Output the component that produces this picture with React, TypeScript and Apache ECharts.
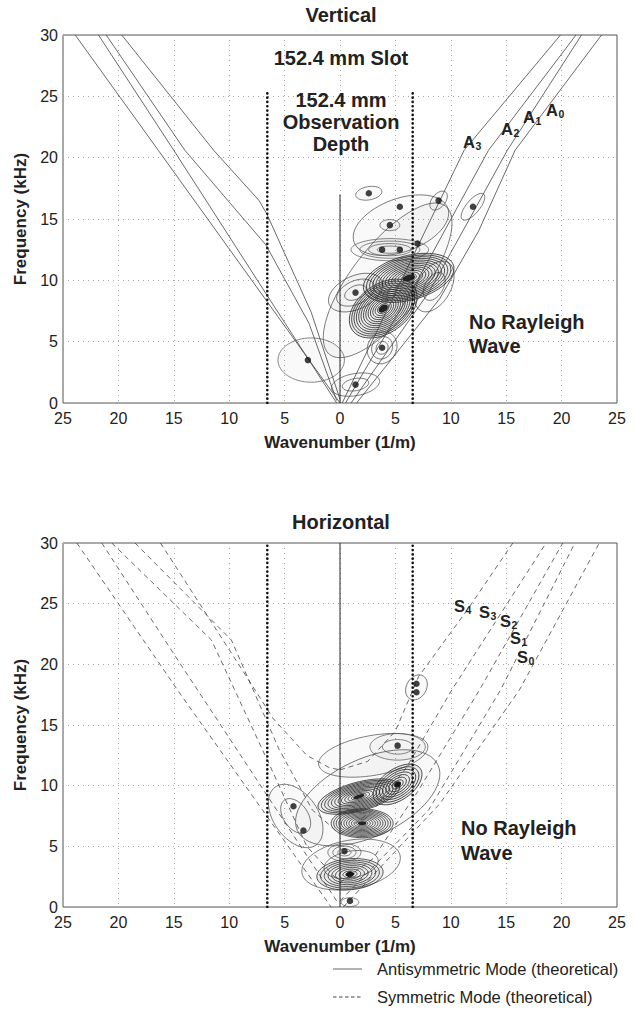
import React, { useEffect, useRef } from "react";
import * as echarts from "echarts";

// ---------- Vertical panel: antisymmetric modes (solid) ----------
const A0_LEFT = [[-23.9, 30], [-16.4, 20.6], [0, 0]];
const A1_LEFT = [[-21.8, 30], [-15, 20.6], [-6.6, 8.8], [-0.3, 0]];
const A2_LEFT = [[-21.1, 30], [-14, 20.6], [-6.7, 12.9], [-2.8, 6.5], [-0.3, 0.2]];
const A3_LEFT = [[-19.7, 30], [-11.4, 20.6], [-7.3, 16.5], [-6.6, 15.4], [-2.6, 7.4], [0, 0.3]];
const A0_RIGHT = [[1.5, 0], [9, 8.5], [12.5, 14], [15.8, 20.6], [23.6, 30]];
const A1_RIGHT = [[1, 0], [8, 9], [12.3, 16], [15.1, 20.6], [21.8, 30]];
const A2_RIGHT = [[0.5, 0], [7, 10], [13.4, 20.6], [21.3, 30]];
const A3_RIGHT = [[0.2, 0], [11.2, 20.6], [19.9, 30]];

// ---------- Horizontal panel: symmetric modes (dashed) ----------
const S0_LEFT = [[-23.75, 30], [-14.6, 17.8], [-0.8, 0]];
const S1_LEFT = [[-21.5, 30], [-14.6, 20.3], [-0.3, 0.5]];
const S2_LEFT = [[-20.6, 30], [-11.6, 22], [-6, 11], [-3, 5], [0, 2]];
const S3_LEFT = [[-18.5, 30], [-9.8, 22], [-5.5, 13], [-2.5, 8], [0, 6]];
const S4_LEFT = [[-16.2, 30], [-9.5, 20.5], [-6, 15.5], [-3, 12.5], [-1, 11.5], [0, 11.3]];
const S0_RIGHT = [[0.3, 0], [9, 8.5], [16.2, 17.9], [23.4, 30]];
const S1_RIGHT = [[0, 0.5], [8, 8], [14.5, 17.9], [21.2, 30]];
const S2_RIGHT = [[0, 2], [3, 4], [7, 9.5], [12.6, 17.9], [20.1, 30]];
const S3_RIGHT = [[0, 6], [3, 8], [6, 11.5], [10.1, 17.9], [18.6, 30]];
const S4_RIGHT = [[0, 11.3], [2.5, 12], [5, 14.5], [7.1, 19], [11.5, 24.5], [15.6, 30]];

// ---------- Slot / observation markers ----------
const SLOT_K = 6.56;
const SLOT_TOP_V = 25.5;
const OBS_TOP_V = 17;

// ---------- Peak markers (dots) ----------
const V_DOTS = [
  [2.6, 17.1], [5.4, 16.0], [8.9, 16.5], [12.0, 16.0], [4.5, 14.5],
  [3.8, 12.5], [5.4, 12.5], [7.0, 13.0], [1.4, 9.0], [3.8, 4.5],
  [1.4, 1.5], [-2.9, 3.5],
];
const H_DOTS = [
  [6.9, 18.4], [6.9, 17.7], [5.2, 13.3], [5.2, 10.1], [-4.2, 8.3],
  [-3.3, 6.3], [0.4, 4.6], [0.9, 2.7], [0.9, 0.5],
];

// ---------- Contour blobs: k, f, semi-axis a, semi-axis b (in 1/m), tilt (deg), levels ----------
const V_BLOBS = [
  [4.3, 10.0, 8.5, 3.2, 52, 1],
  [5.5, 14.5, 4.5, 2.4, 20, 1],
  [1.4, 9.0, 2.6, 1.5, 25, 3],
  [8.5, 9.5, 2.5, 1.5, 60, 2],
  [4.5, 12.5, 3.5, 1.0, 0, 4],
  [6.2, 10.2, 4.2, 2.0, 15, 13],
  [3.9, 7.7, 3.4, 2.2, 35, 13],
  [3.8, 4.5, 1.5, 1.3, 60, 3],
  [1.4, 1.5, 2.2, 1.0, 10, 2],
  [-2.6, 3.5, 3.0, 2.0, 0, 1],
  [2.6, 17.1, 1.2, 0.6, 10, 1],
  [8.9, 16.5, 1.0, 0.6, 50, 1],
  [12.0, 16.0, 1.5, 0.6, 50, 1],
  [4.5, 14.5, 0.9, 0.5, 0, 1],
];
const H_BLOBS = [
  [2.5, 9.0, 7.0, 3.5, 25, 1],
  [3.0, 12.5, 5.0, 1.8, 10, 1],
  [1.0, 3.5, 4.5, 2.2, 10, 2],
  [-4.0, 7.5, 3.2, 2.0, -55, 2],
  [5.2, 13.2, 2.5, 1.2, 0, 2],
  [6.9, 18.1, 1.2, 0.9, 60, 1],
  [5.2, 10.1, 2.5, 1.4, 35, 7],
  [1.7, 9.1, 3.8, 1.3, 15, 11],
  [2.0, 6.9, 2.8, 1.3, 0, 11],
  [0.9, 2.7, 3.0, 1.4, 5, 8],
  [0.4, 4.5, 1.5, 0.8, 0, 3],
  [0.9, 0.4, 0.8, 0.4, 0, 1],
];

const FONT = "'Liberation Sans', Arial, Helvetica, sans-serif";
const INK = "#222";

function modeLine(data: number[][], gi: number, dashed: boolean) {
  return {
    type: "line",
    xAxisIndex: gi,
    yAxisIndex: gi,
    data,
    showSymbol: false,
    silent: true,
    z: 4,
    lineStyle: {
      color: "#444",
      width: 0.8,
      type: dashed ? [5, 4] : "solid",
    },
  };
}

function markerLine(data: number[][], gi: number, dotted: boolean) {
  return {
    type: "line",
    xAxisIndex: gi,
    yAxisIndex: gi,
    data,
    showSymbol: false,
    silent: true,
    z: 5,
    lineStyle: dotted
      ? { color: "#111", width: 2.6, type: [0.1, 4.2], cap: "round" }
      : { color: "#222", width: 1, type: "solid" },
  };
}

function blobSeries(data: number[][], gi: number) {
  return {
    type: "custom",
    xAxisIndex: gi,
    yAxisIndex: gi,
    data,
    silent: true,
    clip: true,
    z: 2,
    renderItem: (params: any, api: any) => {
      const c = api.coord([api.value(0), api.value(1)]);
      const unit = api.size([1, 0])[0];
      const a = api.value(2) * unit;
      const b = api.value(3) * unit;
      const ang = (api.value(4) * Math.PI) / 180;
      const n = api.value(5);
      const dense = n > 6;
      const children: any[] = [];
      for (let i = n; i >= 1; i--) {
        const f = n === 1 ? 1 : 0.1 + (0.9 * i) / n;
        children.push({
          type: "ellipse",
          shape: { cx: 0, cy: 0, rx: a * f, ry: b * f },
          style: {
            fill: i === n ? (dense ? "rgba(0,0,0,0.06)" : "rgba(0,0,0,0.025)") : "none",
            stroke: dense ? "#2a2a2a" : "#555",
            lineWidth: dense ? 0.75 : 0.7,
          },
        });
      }
      if (dense) {
        children.push({
          type: "ellipse",
          shape: { cx: 0, cy: 0, rx: a * 0.14, ry: b * 0.14 },
          style: { fill: "#222", stroke: "none" },
        });
      }
      return { type: "group", x: c[0], y: c[1], rotation: ang, children };
    },
  };
}

function dotSeries(data: number[][], gi: number) {
  return {
    type: "scatter",
    xAxisIndex: gi,
    yAxisIndex: gi,
    data,
    symbol: "circle",
    symbolSize: 6.5,
    silent: true,
    z: 6,
    itemStyle: { color: "#111" },
  };
}

function xAxisFor(gi: number) {
  return {
    type: "value",
    gridIndex: gi,
    min: -25,
    max: 25,
    interval: 5,
    axisLine: { show: false },
    axisTick: { show: false },
    axisLabel: {
      formatter: (v: number) => String(Math.abs(v)),
      fontSize: 16,
      color: INK,
      fontFamily: FONT,
      margin: 7,
    },
    splitLine: { show: true, lineStyle: { type: [1, 4], color: "#a5a5a5", width: 1 } },
    name: "Wavenumber (1/m)",
    nameLocation: "middle",
    nameGap: 31,
    nameTextStyle: { fontSize: 17, fontWeight: "bold", color: INK, fontFamily: FONT },
  };
}

function yAxisFor(gi: number) {
  return {
    type: "value",
    gridIndex: gi,
    min: 0,
    max: 30,
    interval: 5,
    axisLine: { show: false },
    axisTick: { show: false },
    axisLabel: { fontSize: 16, color: INK, fontFamily: FONT, margin: 5 },
    splitLine: { show: true, lineStyle: { type: [1, 4], color: "#a5a5a5", width: 1 } },
    name: "Frequency (kHz)",
    nameLocation: "middle",
    nameGap: 33,
    nameRotate: 90,
    nameTextStyle: { fontSize: 17, fontWeight: "bold", color: INK, fontFamily: FONT },
  };
}

function txt(text: string, x: number, y: number, size: number, bold: boolean, align = "center") {
  return {
    type: "text",
    x,
    y,
    silent: true,
    z: 10,
    style: {
      text,
      fill: INK,
      font: `${bold ? "bold " : ""}${size}px ${FONT}`,
      textAlign: align,
      textVerticalAlign: "middle",
    },
  };
}

function modeLabel(letter: string, sub: string, x: number, y: number) {
  return [txt(letter, x, y, 16.5, true, "right"), txt(sub, x + 0.5, y + 4, 10.5, true, "left")];
}

export default function App() {
  const ref = useRef<HTMLDivElement>(null);
  useEffect(() => {
    document.body.style.margin = "0";
    const chart = echarts.init(ref.current!, null, { renderer: "svg" });
    const option: any = {
      animation: false,
      backgroundColor: "#fff",
      textStyle: { fontFamily: FONT },
      grid: [
        { left: 63, top: 35, width: 554, height: 368, show: true, borderColor: "#555", borderWidth: 1 },
        { left: 63, top: 543, width: 554, height: 364, show: true, borderColor: "#555", borderWidth: 1 },
      ],
      xAxis: [xAxisFor(0), xAxisFor(1)],
      yAxis: [yAxisFor(0), yAxisFor(1)],
      series: [
        blobSeries(V_BLOBS, 0),
        blobSeries(H_BLOBS, 1),
        modeLine(A0_LEFT, 0, false),
        modeLine(A1_LEFT, 0, false),
        modeLine(A2_LEFT, 0, false),
        modeLine(A3_LEFT, 0, false),
        modeLine(A0_RIGHT, 0, false),
        modeLine(A1_RIGHT, 0, false),
        modeLine(A2_RIGHT, 0, false),
        modeLine(A3_RIGHT, 0, false),
        modeLine(S0_LEFT, 1, true),
        modeLine(S1_LEFT, 1, true),
        modeLine(S2_LEFT, 1, true),
        modeLine(S3_LEFT, 1, true),
        modeLine(S4_LEFT, 1, true),
        modeLine(S0_RIGHT, 1, true),
        modeLine(S1_RIGHT, 1, true),
        modeLine(S2_RIGHT, 1, true),
        modeLine(S3_RIGHT, 1, true),
        modeLine(S4_RIGHT, 1, true),
        markerLine([[-SLOT_K, 0], [-SLOT_K, SLOT_TOP_V]], 0, true),
        markerLine([[SLOT_K, 0], [SLOT_K, SLOT_TOP_V]], 0, true),
        markerLine([[0, 0], [0, OBS_TOP_V]], 0, false),
        markerLine([[-SLOT_K, 0], [-SLOT_K, 30]], 1, true),
        markerLine([[SLOT_K, 0], [SLOT_K, 30]], 1, true),
        markerLine([[0, 0], [0, 30]], 1, false),
        dotSeries(V_DOTS, 0),
        dotSeries(H_DOTS, 1),
      ],
      graphic: [
        txt("Vertical", 341, 15, 20, true),
        txt("Horizontal", 341, 522, 20, true),
        txt("152.4 mm Slot", 341, 58, 20, true),
        txt("152.4 mm", 341, 100, 20, true),
        txt("Observation", 341, 122, 20, true),
        txt("Depth", 341, 144, 20, true),
        txt("No Rayleigh", 469, 322, 20, true, "left"),
        txt("Wave", 469, 346, 20, true, "left"),
        txt("No Rayleigh", 461, 828, 20, true, "left"),
        txt("Wave", 461, 853, 20, true, "left"),
        ...modeLabel("A", "3", 475, 142),
        ...modeLabel("A", "2", 513, 129),
        ...modeLabel("A", "1", 535, 117),
        ...modeLabel("A", "0", 558, 110),
        ...modeLabel("S", "4", 465, 606),
        ...modeLabel("S", "3", 490, 612),
        ...modeLabel("S", "2", 511, 621),
        ...modeLabel("S", "1", 521, 638),
        ...modeLabel("S", "0", 528, 657),
        {
          type: "line",
          shape: { x1: 333, y1: 969, x2: 362, y2: 969 },
          style: { stroke: "#666", lineWidth: 1 },
        },
        {
          type: "line",
          shape: { x1: 333, y1: 997, x2: 362, y2: 997 },
          style: { stroke: "#444", lineWidth: 1, lineDash: [3.5, 2.5] },
        },
        txt("Antisymmetric Mode (theoretical)", 377, 969, 16.5, false, "left"),
        txt("Symmetric Mode (theoretical)", 377, 997, 16.5, false, "left"),
      ],
    };
    chart.setOption(option);
    return () => chart.dispose();
  }, []);
  return <div ref={ref} style={{ width: 634, height: 1019 }} />;
}
